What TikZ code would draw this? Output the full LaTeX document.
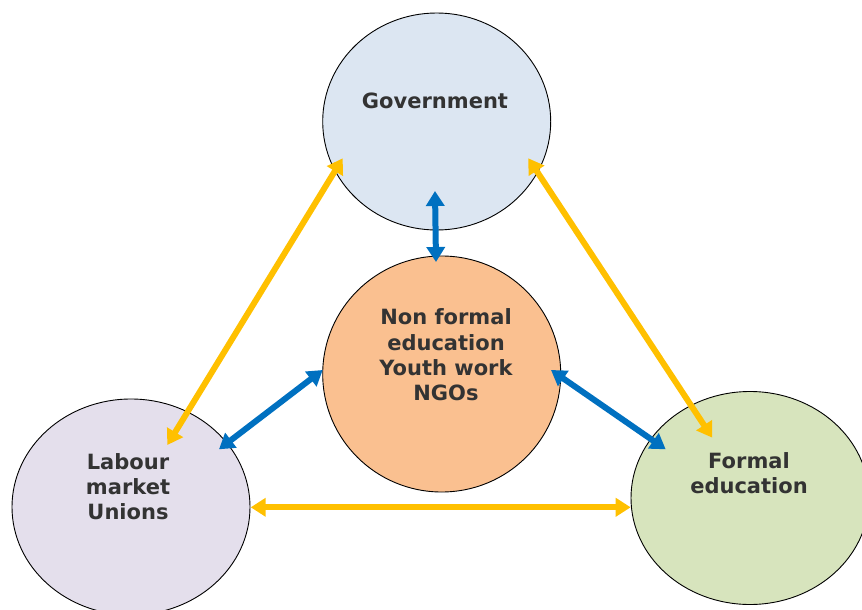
\documentclass[tikz,border=0pt]{standalone}
\usepackage{fontspec}
\setmainfont{DejaVu Sans}
\usetikzlibrary{shapes.geometric,arrows.meta}
\definecolor{govfill}{HTML}{DCE6F2}
\definecolor{cenfill}{HTML}{FAC090}
\definecolor{labfill}{HTML}{E4DFEC}
\definecolor{formfill}{HTML}{D7E4BD}
\definecolor{arrowyellow}{HTML}{FFC000}
\definecolor{arrowblue}{HTML}{0070C0}
\definecolor{txtgray}{HTML}{333333}
\tikzset{
  bubble/.style={ellipse, draw=black, line width=0.9pt, inner sep=0pt},
  bubbletext/.style={align=center, text=txtgray, font=\bfseries\fontsize{21}{25.3}\selectfont, inner sep=0pt},
  yarrow/.style={draw=arrowyellow, line width=6pt, {Triangle[length=15pt,width=18pt]}-{Triangle[length=15pt,width=18pt]}},
  barrow/.style={draw=arrowblue, line width=6pt, {Triangle[length=15pt,width=18pt]}-{Triangle[length=15pt,width=18pt]}}
}
\begin{document}
\begin{tikzpicture}[x=1pt,y=-1pt]
\useasboundingbox (0,0) rectangle (862,610);
% circles
\node[bubble, fill=govfill, minimum width=228pt, minimum height=217pt] (gov) at (436.7,121.5) {};
\node[bubble, fill=cenfill, minimum width=238pt, minimum height=236pt] (cen) at (441.7,374) {};
\node[bubble, fill=labfill, minimum width=238pt, minimum height=216pt] (lab) at (131,507) {};
\node[bubble, fill=formfill, minimum width=238pt, minimum height=213pt] (form) at (750,498) {};
% texts
\node[bubbletext] (govtext) at (435,100.5) {Government};
\node[bubbletext] (centext) at (446,355) {Non formal\\education\\Youth work\\NGOs};
\node[bubbletext] (labtext) at (128,486.7) {Labour\\market\\Unions};
\node[bubbletext] (formtext) at (749,473) {Formal\\education};
% yellow arrows
\draw[yarrow] ([shift={(36.3,-62)}]lab.center) -- ([shift={(-94,36.8)}]gov.center);
\draw[yarrow] ([shift={(91.6,36.8)}]gov.center) -- ([shift={(-37.7,-60.3)}]form.center);
\draw[yarrow] ([shift={(119.7,0.3)}]lab.center) -- ([shift={(-119.3,9.3)}]form.center);
% blue arrows
\draw[barrow] ([shift={(-1.7,69.5)}]gov.center) -- ([shift={(-5.7,-112)}]cen.center);
\draw[barrow] ([shift={(88,-57.7)}]lab.center) -- ([shift={(-119,-4)}]cen.center);
\draw[barrow] ([shift={(109.3,-4)}]cen.center) -- ([shift={(-84.3,-48.7)}]form.center);
\end{tikzpicture}
\end{document}
